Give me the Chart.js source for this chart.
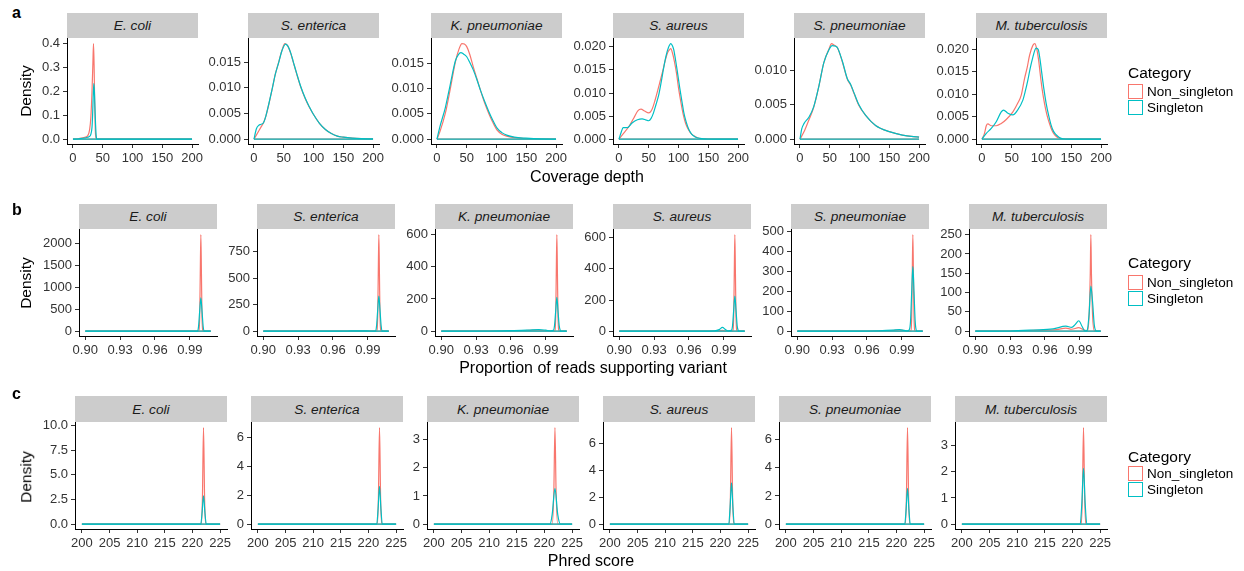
<!DOCTYPE html>
<html><head><meta charset="utf-8">
<script src="https://cdn.jsdelivr.net/npm/chart.js@4/dist/chart.umd.min.js"></script>
<style>
body{margin:0;background:#fff;width:1244px;height:571px;overflow:hidden;position:relative;font-family:'Liberation Sans',Arial,Helvetica,sans-serif;}
.t{position:absolute;white-space:nowrap;line-height:1;color:#000;}
.strip{position:absolute;background:#cccccc;display:flex;align-items:center;justify-content:center;font-style:italic;font-size:13.7px;color:#1a1a1a;}
.key{position:absolute;width:15px;height:15px;box-sizing:border-box;border:1.5px solid;background:#fff;}
canvas{position:absolute;}
</style></head><body>
<script>
// ---------------- DATA ----------------
const species = ['E. coli','S. enterica','K. pneumoniae','S. aureus','S. pneumoniae','M. tuberculosis'];
const categories = ['Non_singleton','Singleton'];

// a: Coverage depth  [x, density]
const depth_Ecoli_Non = [[0,0],[10,0.003],[20,0.008],[25,0.015],[28,0.04],[30,0.09],[32,0.2],[33.5,0.32],[34.5,0.40],[35.5,0.31],[36.5,0.15],[37.5,0.04],[39,0.003],[45,0],[200,0]];
const depth_Ecoli_Sing = [[0,0],[10,0.002],[20,0.005],[25,0.008],[28,0.012],[30,0.02],[32,0.05],[33,0.1],[34,0.18],[35,0.233],[36,0.2],[37,0.13],[38,0.06],[39,0.015],[40,0],[200,0]];
const depth_Senterica_Non = [[0,0],[4,0.0008],[8,0.0016],[12,0.0024],[16,0.0032],[20,0.0045],[25,0.0068],[31,0.0100],[36,0.0127],[42,0.0152],[47,0.0173],[52,0.0186],[57,0.0181],[62,0.0166],[66,0.0150],[72,0.0126],[79,0.0100],[86,0.0079],[93,0.0062],[99,0.0050],[110,0.0031],[120,0.0019],[130,0.0011],[140,0.0006],[150,0.0004],[165,0.0002],[180,0.0001],[200,0.00005]];
const depth_Senterica_Sing = [[0,0],[4,0.0020],[8,0.0027],[12,0.0029],[16,0.0032],[20,0.0045],[25,0.0069],[31,0.0100],[36,0.0127],[42,0.0151],[47,0.0172],[53,0.0185],[57,0.0181],[62,0.0167],[66,0.0151],[72,0.0127],[79,0.0101],[86,0.0080],[93,0.0063],[99,0.0050],[110,0.0031],[120,0.0019],[130,0.0011],[140,0.0006],[150,0.0004],[165,0.0002],[180,0.0001],[200,0.00005]];
const depth_Kpneu_Non = [[0,0],[5,0.0015],[14,0.0051],[22,0.0097],[31,0.0153],[37,0.0178],[42,0.0189],[46,0.0188],[50,0.0183],[55,0.0168],[61,0.0143],[67,0.0120],[73,0.0097],[80,0.0072],[87,0.0051],[94,0.0033],[101,0.0018],[109,0.0010],[117,0.0006],[130,0.0003],[150,0.0001],[175,0.00003],[200,0]];
const depth_Kpneu_Sing = [[0,0],[5,0.0025],[14,0.0062],[22,0.0106],[31,0.0155],[36,0.0167],[40,0.0171],[45,0.0168],[50,0.0163],[55,0.0152],[61,0.0137],[67,0.0118],[73,0.0097],[80,0.0075],[87,0.0055],[94,0.0037],[101,0.0022],[109,0.0013],[117,0.0008],[130,0.0004],[150,0.0002],[175,0.00005],[200,0]];
const depth_Saureus_Non = [[0,0],[8,0.0013],[17,0.0028],[25,0.0046],[32,0.0062],[37,0.0065],[43,0.0061],[50,0.0057],[56,0.0066],[61,0.0086],[65,0.0105],[69,0.0125],[74,0.0150],[78,0.0172],[82,0.0188],[85,0.0194],[87,0.0196],[90,0.0186],[93,0.0169],[97,0.0140],[100,0.0111],[104,0.0080],[108,0.0053],[112,0.0034],[117,0.0020],[122,0.0011],[128,0.0006],[135,0.0002],[142,0.0001],[150,0],[200,0]];
const depth_Saureus_Sing = [[0,0],[4,0.0016],[7,0.0025],[14,0.0025],[22,0.0035],[31,0.0042],[39,0.0044],[45,0.0042],[50,0.0040],[54,0.0045],[58,0.0057],[62,0.0074],[67,0.0097],[71,0.0124],[75,0.0154],[79,0.0180],[83,0.0198],[87,0.0207],[90,0.0202],[92,0.0194],[95,0.0172],[98,0.0147],[102,0.0112],[106,0.0080],[109,0.0057],[113,0.0037],[117,0.0022],[122,0.0011],[128,0.0005],[136,0.0002],[150,0.00005],[200,0]];
const depth_Spneu_Non = [[0,0],[8,0.0013],[15,0.0028],[23,0.0046],[32,0.0078],[40,0.0111],[48.7,0.0131],[53,0.0139],[57,0.0137],[63,0.0133],[71,0.0113],[79.6,0.0087],[85,0.0079],[91,0.0066],[99,0.0049],[110,0.0035],[127,0.0020],[150,0.0011],[172,0.0006],[200,0.0003]];
const depth_Spneu_Sing = [[0,0],[3,0.0015],[7,0.0023],[15,0.0032],[23,0.0047],[32,0.0078],[40,0.0111],[48.7,0.0130],[54,0.0136],[60,0.0135],[63,0.0133],[71,0.0114],[79.6,0.0088],[85,0.0080],[91,0.0067],[99,0.0050],[110,0.0035],[127,0.0020],[150,0.0011],[172,0.0006],[200,0.0003]];
const depth_Mtb_Non = [[0,0],[4,0.0012],[7.3,0.0030],[10,0.0034],[15.6,0.0030],[24,0.0030],[32.4,0.0035],[40.8,0.0044],[52,0.0061],[60,0.0080],[66,0.0098],[71.5,0.0135],[76,0.0160],[80,0.0187],[85.5,0.0209],[88.8,0.0213],[92,0.0201],[95,0.0178],[97.8,0.0146],[101,0.0112],[105,0.0080],[109,0.0055],[113.4,0.0035],[117.5,0.0020],[121.8,0.0010],[127,0.0004],[133,0.0001],[145,0],[200,0]];
const depth_Mtb_Sing = [[0,0],[7.3,0.0013],[15.6,0.0024],[24,0.0039],[32.4,0.0061],[36.3,0.0065],[43.6,0.0058],[52,0.0054],[60,0.0065],[68.7,0.0087],[73,0.0108],[77,0.0131],[81,0.0158],[85.5,0.0183],[89,0.0199],[91,0.0203],[93,0.0202],[95,0.0198],[97.8,0.0175],[100.6,0.0146],[104,0.0112],[107.8,0.0080],[112,0.0053],[116,0.0032],[120,0.0018],[124.6,0.0010],[130,0.0004],[135.8,0.0001],[150,0.00003],[200,0]];

// b: Proportion of reads supporting variant
const prop_Ecoli_Non = [[0.9,0],[0.9975,0],[0.9985,330],[0.999,1320],[0.9995,2200],[1.0,1320],[1.0005,330],[1.0015,0],[1.008,0]];
const prop_Ecoli_Sing = [[0.9,0],[0.9965,0],[0.9975,105],[0.9985,460],[0.9995,760],[1.0005,460],[1.0015,105],[1.0025,0],[1.008,0]];
const prop_Senterica_Non = [[0.9,0],[0.97,0.3],[0.985,1.2],[0.995,0.3],[0.9975,0],[0.9985,135],[0.999,545],[0.9995,910],[1.0,545],[1.0005,135],[1.0015,0],[1.008,0]];
const prop_Senterica_Sing = [[0.9,0],[0.96,0.5],[0.975,2],[0.985,3.5],[0.992,1.5],[0.9965,1],[0.9975,47],[0.9985,197],[0.9995,330],[1.0005,197],[1.0015,47],[1.0025,0],[1.008,0]];
const prop_Kpneu_Non = [[0.9,0],[0.95,1],[0.97,3],[0.983,6],[0.99,3],[0.995,1],[0.9975,0],[0.9985,90],[0.999,360],[0.9995,600],[1.0,360],[1.0005,90],[1.0015,0],[1.008,0]];
const prop_Kpneu_Sing = [[0.9,0],[0.94,1],[0.96,3],[0.975,7],[0.984,10],[0.99,6],[0.994,2],[0.9965,5],[0.9975,35],[0.9985,125],[0.9995,210],[1.0005,125],[1.0015,35],[1.0025,3],[1.003,0],[1.008,0]];
const prop_Saureus_Non = [[0.9,0],[0.98,0.5],[0.989,5],[0.992,1],[0.9975,0],[0.9985,93],[0.999,370],[0.9995,620],[1.0,370],[1.0005,93],[1.0015,0],[1.008,0]];
const prop_Saureus_Sing = [[0.9,0],[0.97,0.5],[0.982,2],[0.986,10],[0.9888,24],[0.9915,10],[0.994,2],[0.9965,5],[0.9975,35],[0.9985,135],[0.9995,225],[1.0005,135],[1.0015,35],[1.0025,3],[1.003,0],[1.008,0]];
const prop_Spneu_Non = [[0.9,0],[0.96,0.5],[0.98,3],[0.988,6],[0.993,2],[0.9975,0],[0.9985,73],[0.999,290],[0.9995,485],[1.0,290],[1.0005,73],[1.0015,0],[1.008,0]];
const prop_Spneu_Sing = [[0.9,0],[0.95,0.5],[0.97,2],[0.982,5],[0.988,8],[0.992,4],[0.995,1],[0.9965,8],[0.9975,50],[0.9985,195],[0.9995,325],[1.0005,195],[1.0015,50],[1.0025,3],[1.003,0],[1.008,0]];
const prop_Mtb_Non = [[0.9,0],[0.93,0.5],[0.95,2],[0.97,4],[0.978,8],[0.983,5],[0.989,9],[0.993,4],[0.9965,1],[0.998,40],[0.999,150],[0.9995,250],[1.0,150],[1.001,40],[1.0025,1],[1.008,0]];
const prop_Mtb_Sing = [[0.9,0],[0.93,0.5],[0.95,3],[0.967,6],[0.978,13],[0.983,10],[0.986,17],[0.9891,27],[0.992,12],[0.9944,0.5],[0.9964,3],[0.998,45],[0.9995,117],[1.001,75],[1.0025,15],[1.0045,0],[1.008,0]];

// c: Phred score
const phred_Ecoli_Non = [[200,0],[221.6,0],[221.8,2.5],[222,9.77],[222.2,2.5],[222.4,0],[225,0]];
const phred_Ecoli_Sing = [[200,0],[221.5,0],[221.75,1.2],[222,2.86],[222.25,1.2],[222.5,0],[225,0]];
const phred_Senterica_Non = [[200,0],[221.6,0],[221.8,1.8],[222,6.68],[222.2,1.8],[222.4,0],[225,0]];
const phred_Senterica_Sing = [[200,0],[221.5,0],[221.75,1.1],[222,2.62],[222.25,1.1],[222.5,0],[225,0]];
const phred_Kpneu_Non = [[200,0],[221.4,0],[221.7,1.2],[221.9,3.42],[222.1,1.2],[222.4,0],[225,0]];
const phred_Kpneu_Sing = [[200,0],[221,0],[221.4,0.35],[221.9,1.27],[222.4,0.35],[222.9,0],[225,0]];
const phred_Saureus_Non = [[200,0],[221.6,0],[221.8,2.0],[222,7.2],[222.2,2.0],[222.4,0],[225,0]];
const phred_Saureus_Sing = [[200,0],[221.5,0],[221.75,1.3],[222,3.09],[222.25,1.3],[222.5,0],[225,0]];
const phred_Spneu_Non = [[200,0],[221.6,0],[221.8,1.9],[222,6.85],[222.2,1.9],[222.4,0],[225,0]];
const phred_Spneu_Sing = [[200,0],[221.5,0],[221.75,1.05],[222,2.54],[222.25,1.05],[222.5,0],[225,0]];
const phred_Mtb_Non = [[200,0],[221.6,0],[221.8,1.1],[222,3.68],[222.2,1.1],[222.4,0],[225,0]];
const phred_Mtb_Sing = [[200,0],[221.4,0],[221.7,0.8],[222,2.13],[222.3,0.8],[222.6,0],[225,0]];

// tick labels
const depthXTickLabels = ['0','50','100','150','200'];
const propXTickLabels = ['0.90','0.93','0.96','0.99'];
const phredXTickLabels = ['200','205','210','215','220','225'];
const depthYTickLabels = [['0.0','0.1','0.2','0.3','0.4'],['0.000','0.005','0.010','0.015'],['0.000','0.005','0.010','0.015'],['0.000','0.005','0.010','0.015','0.020'],['0.000','0.005','0.010'],['0.000','0.005','0.010','0.015','0.020']];
const propYTickLabels = [['0','500','1000','1500','2000'],['0','250','500','750'],['0','200','400','600'],['0','200','400','600'],['0','100','200','300','400','500'],['0','50','100','150','200','250']];
const phredYTickLabels = [['0.0','2.5','5.0','7.5','10.0'],['0','2','4','6'],['0','1','2','3'],['0','2','4','6'],['0','2','4','6'],['0','1','2','3']];

// ---------------- LAYOUT / STYLE ----------------
const FONT = "'Liberation Sans', Arial, Helvetica, sans-serif";
const RED = '#F8766D', TEAL = '#00BFC4';
const rows = [
  {tag:'a', title:'Coverage depth', titleX:587, titleY:177, densY:91, stripTop:13, stripBottom:38, plotBottom:144,
   lefts:[67,248,431,613,794,976], width:131, xLabels:depthXTickLabels, yLabels:depthYTickLabels,
   series:[[depth_Ecoli_Non,depth_Ecoli_Sing],[depth_Senterica_Non,depth_Senterica_Sing],[depth_Kpneu_Non,depth_Kpneu_Sing],[depth_Saureus_Non,depth_Saureus_Sing],[depth_Spneu_Non,depth_Spneu_Sing],[depth_Mtb_Non,depth_Mtb_Sing]],
   tagY:4.5, legTitleY:73, keyTop:84},
  {tag:'b', title:'Proportion of reads supporting variant', titleX:593, titleY:368, densY:283, stripTop:204, stripBottom:229, plotBottom:336,
   lefts:[79,257,435,613,791,969], width:138, xLabels:propXTickLabels, yLabels:propYTickLabels,
   series:[[prop_Ecoli_Non,prop_Ecoli_Sing],[prop_Senterica_Non,prop_Senterica_Sing],[prop_Kpneu_Non,prop_Kpneu_Sing],[prop_Saureus_Non,prop_Saureus_Sing],[prop_Spneu_Non,prop_Spneu_Sing],[prop_Mtb_Non,prop_Mtb_Sing]],
   tagY:201.5, legTitleY:263, keyTop:275},
  {tag:'c', title:'Phred score', titleX:591, titleY:561, densY:477, stripTop:396, stripBottom:422, plotBottom:529,
   lefts:[75,251,427,603,779,955], width:152, xLabels:phredXTickLabels, yLabels:phredYTickLabels,
   series:[[phred_Ecoli_Non,phred_Ecoli_Sing],[phred_Senterica_Non,phred_Senterica_Sing],[phred_Kpneu_Non,phred_Kpneu_Sing],[phred_Saureus_Non,phred_Saureus_Sing],[phred_Spneu_Non,phred_Spneu_Sing],[phred_Mtb_Non,phred_Mtb_Sing]],
   tagY:385.5, legTitleY:457, keyTop:466}
];

function txt(s, x, y, css, tf) {
  const d = document.createElement('div');
  d.className = 't'; d.textContent = s;
  d.style.left = x + 'px'; d.style.top = y + 'px';
  Object.assign(d.style, css || {});
  d.style.transform = tf || 'translate(-50%,-50%)';
  document.body.appendChild(d);
  return d;
}

const P_L = 60, P_T = 10, P_R = 24, P_B = 30;

function makePanel(row, i) {
  const L = row.lefts[i], W = row.width, H = row.plotBottom - row.stripBottom;
  const st = document.createElement('div');
  st.className = 'strip'; st.textContent = species[i];
  st.style.left = L + 'px'; st.style.top = row.stripTop + 'px';
  st.style.width = W + 'px'; st.style.height = (row.stripBottom - row.stripTop) + 'px';
  document.body.appendChild(st);

  const cv = document.createElement('canvas');
  cv.width = P_L + W + P_R; cv.height = P_T + H + P_B;
  cv.style.left = (L - P_L) + 'px'; cv.style.top = (row.stripBottom - P_T) + 'px';
  document.body.appendChild(cv);

  const [non, sing] = row.series[i];
  const all = non.concat(sing);
  const yMax = Math.max(...all.map(p => p[1]));
  const xs = all.map(p => p[0]);
  const xMin = Math.min(...xs), xMax = Math.max(...xs);
  const xPad = (xMax - xMin) * 0.05;
  const yLabels = row.yLabels[i];
  const yVals = yLabels.map(Number);
  const xVals = row.xLabels.map(Number);

  const curve = (pts, color) => ({data: pts.map(p => ({x:p[0], y:p[1]})), borderColor: color, borderWidth: 1.2,
    pointRadius: 0, fill: false, cubicInterpolationMode: 'monotone'});
  const base = (pts, color) => ({data: [{x:pts[0][0], y:0}, {x:pts[pts.length-1][0], y:0}], borderColor: color,
    borderWidth: 1.2, pointRadius: 0, fill: false});

  const axisCommon = {
    grid: {display: true, drawOnChartArea: false, drawTicks: true, tickLength: 4, color: '#333', lineWidth: 1},
    border: {display: true, color: '#000', width: 1}
  };

  new Chart(cv, {
    type: 'line',
    data: {datasets: [base(sing, TEAL), curve(sing, TEAL), base(non, RED), curve(non, RED)]},
    options: {
      responsive: false, animation: false, devicePixelRatio: 1, events: [],
      layout: {autoPadding: false, padding: {left: 0, top: P_T, right: P_R, bottom: 0}},
      plugins: {legend: {display: false}, tooltip: {enabled: false}},
      scales: {
        x: Object.assign({}, axisCommon, {
          type: 'linear', min: xMin - xPad, max: xMax + xPad,
          afterBuildTicks: s => { s.ticks = xVals.map(v => ({value: v})); },
          afterFit: s => { s.height = P_B; },
          ticks: {autoSkip: false, maxRotation: 0, minRotation: 0, padding: 3, color: '#333',
                  font: {family: FONT, size: 13}, callback: (v, idx) => row.xLabels[idx]}
        }),
        y: Object.assign({}, axisCommon, {
          type: 'linear', min: -0.05 * yMax, max: 1.05 * yMax,
          afterBuildTicks: s => { s.ticks = yVals.map(v => ({value: v})); },
          afterFit: s => { s.width = P_L; },
          ticks: {autoSkip: false, padding: 3, color: '#333',
                  font: {family: FONT, size: 13}, callback: (v, idx) => yLabels[idx]}
        })
      }
    }
  });
}

rows.forEach(row => {
  for (let i = 0; i < species.length; i++) makePanel(row, i);
  txt(row.tag, 12, row.tagY, {fontSize: '16px', fontWeight: 'bold'}, 'none');
  txt(row.title, row.titleX, row.titleY, {fontSize: '16px', color: '#000'});
  txt('Density', 26, row.densY, {fontSize: '15.5px', color: '#000'}, 'translate(-50%,-50%) rotate(-90deg)');
  txt('Category', 1128, row.legTitleY, {fontSize: '15.5px'}, 'translate(0,-50%)');
  const cols = [RED, TEAL];
  categories.forEach((c, k) => {
    const kd = document.createElement('div');
    kd.className = 'key';
    kd.style.left = '1128px'; kd.style.top = (row.keyTop + k * 16) + 'px';
    kd.style.borderColor = cols[k];
    document.body.appendChild(kd);
    txt(c, 1147, row.keyTop + k * 16 + 8, {fontSize: '13.5px'}, 'translate(0,-50%)');
  });
});
</script>
</body></html>
